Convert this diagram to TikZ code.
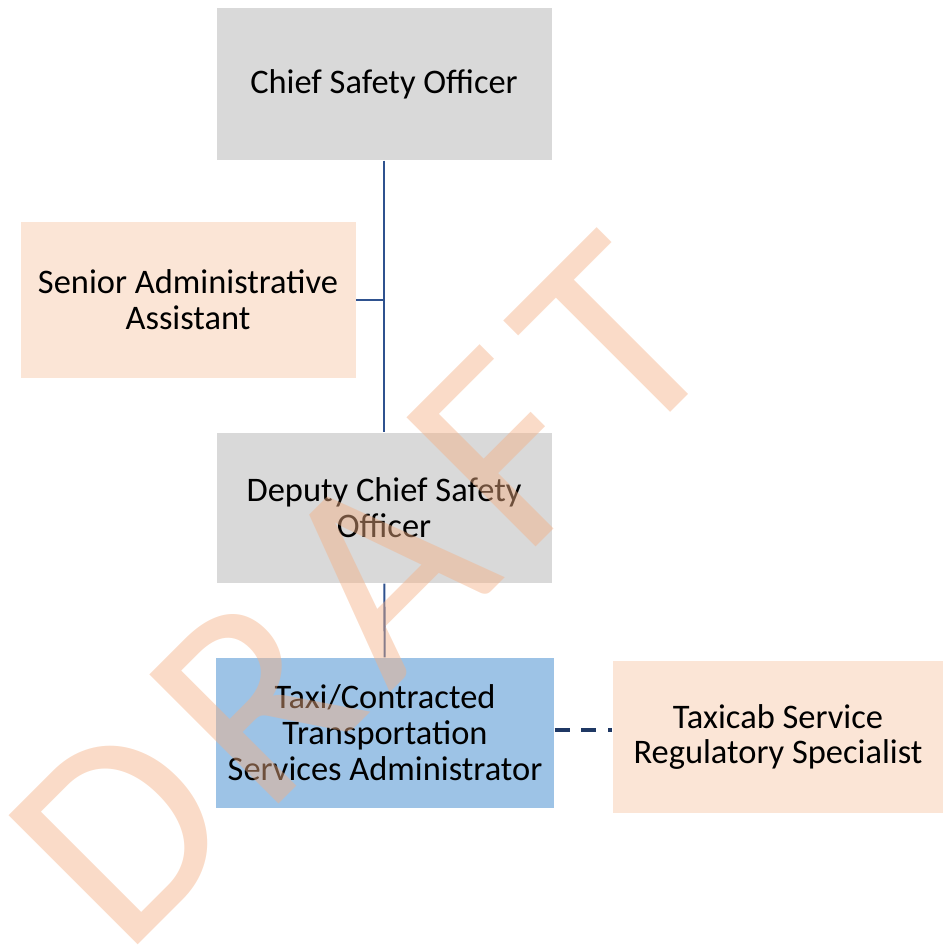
\documentclass[tikz,border=0pt]{standalone}
\usepackage{fontspec}
\setmainfont{Carlito}
\newfontfamily\draftfont{Carlito}
\usepackage{xcolor}
\usetikzlibrary{positioning}

\definecolor{boxgray}{HTML}{D9D9D9}
\definecolor{boxpeach}{HTML}{FBE5D6}
\definecolor{boxblue}{HTML}{9DC3E6}
\definecolor{linkblue}{HTML}{2F528F}
\definecolor{dashnavy}{HTML}{1F3864}
\definecolor{draftorange}{HTML}{F4B084}

\newcommand{\trk}{\kern6.5pt}

\begin{document}
\begin{tikzpicture}[
  role/.style={
    rectangle,
    fill=#1,
    minimum width=3.35cm,
    minimum height=1.52cm,
    font=\fontsize{9.8}{10.2}\selectfont,
    align=center
  },
  link/.style={
    draw=linkblue,
    line width=0.6pt
  },
  dotted link/.style={
    draw=dashnavy,
    line width=1.2pt,
    dash pattern=on 4.2pt off 3.4pt
  },
  watermark/.style={
    font=\draftfont\fontsize{81}{81}\selectfont,
    text=draftorange,
    text opacity=0.45,
    inner sep=0pt
  }
]
\useasboundingbox (0,0) rectangle (9.5,9.48);

% Top of the chart
\node[role=boxgray] (cso) at (3.84,8.64) {Chief Safety Officer};
\node[role=boxpeach, minimum height=1.56cm] (saa) at (1.88,6.48) {Senior Administrative\\Assistant};

% Middle and bottom
\node[role=boxgray, minimum height=1.50cm] (dcso) at (3.84,4.40) {Deputy Chief Safety\\Officer};
\node[role=boxblue, minimum height=1.50cm] (tcta) at (3.85,2.15) {Taxi/Contracted\\Transportation\\Services Administrator};
\node[role=boxpeach, minimum width=3.30cm] (tsrs) at (7.78,2.11) {Taxicab Service\\Regulatory Specialist};

% Reporting lines
\draw[link] (cso) -- (dcso);
\draw[link] (saa.east) -- (saa.east -| cso.south);
\draw[link] (dcso) -- (tcta);
\draw[dotted link] (tcta.east |- 0,2.18) -- (tsrs.west |- 0,2.18);

% Watermark
\node[watermark, rotate=45, anchor=base west] (draft) at (1.24,-0.11) {D\trk R\trk A\trk F\trk T};

\end{tikzpicture}
\end{document}
